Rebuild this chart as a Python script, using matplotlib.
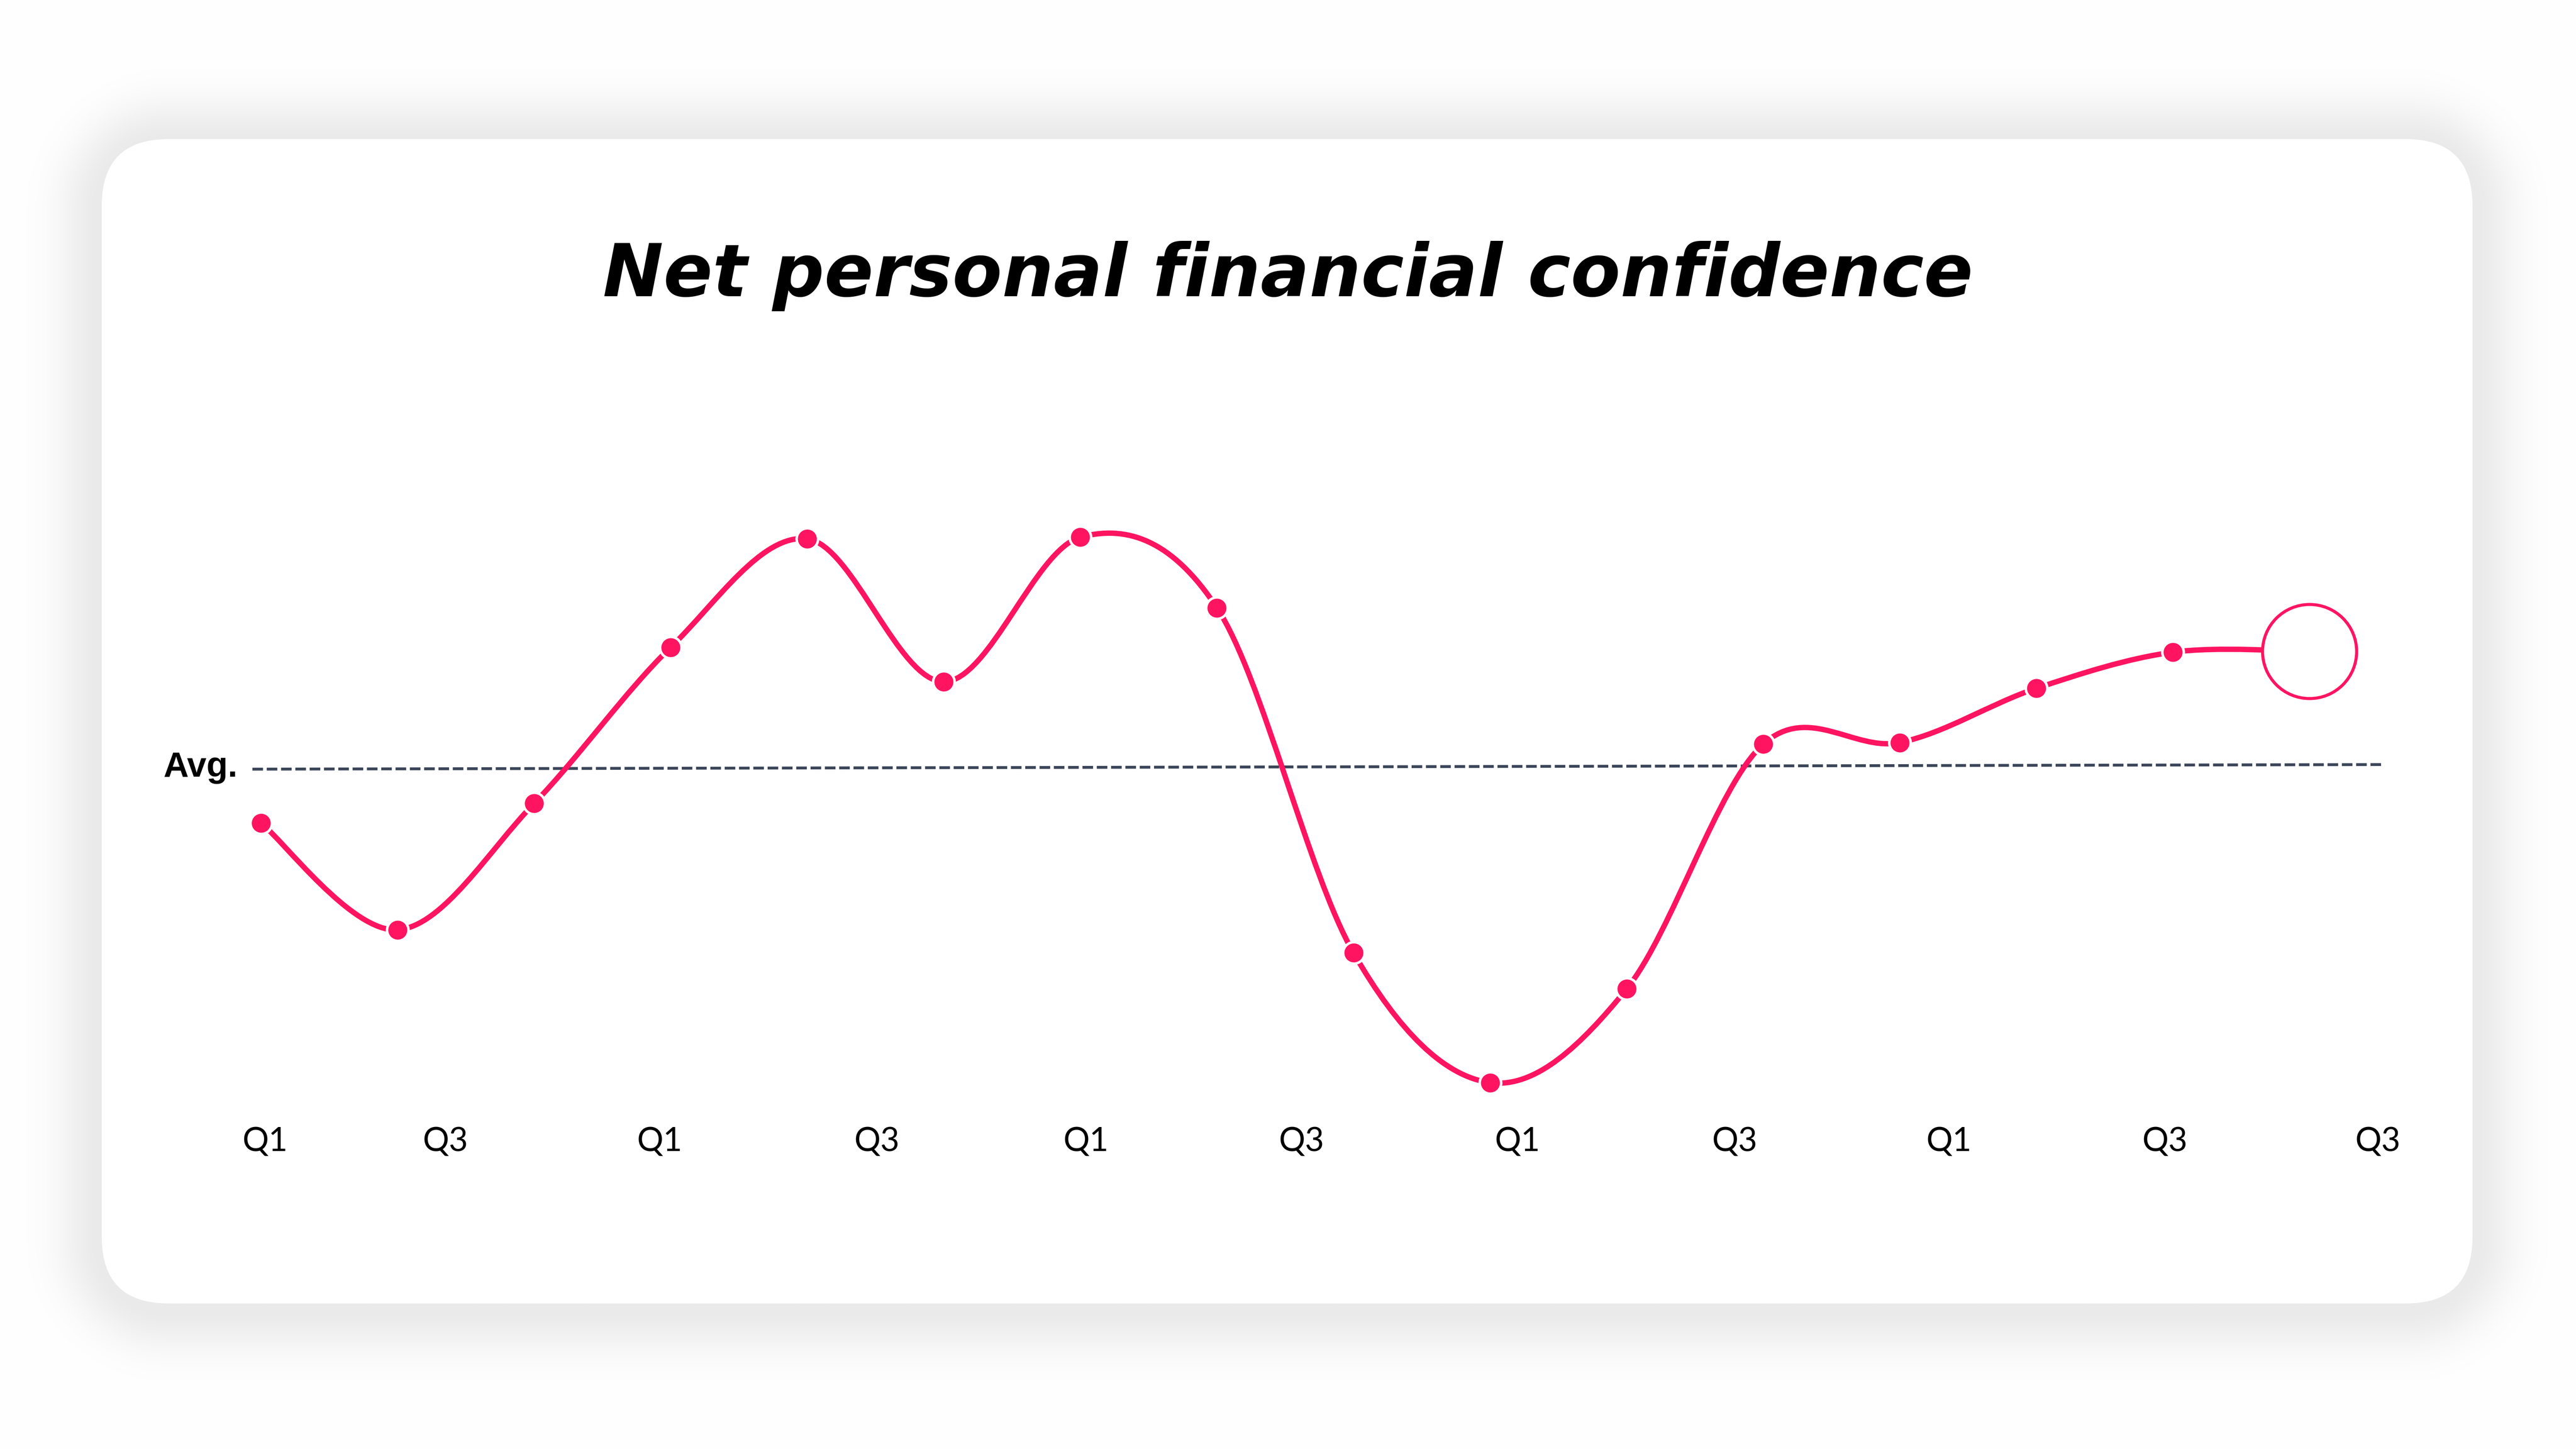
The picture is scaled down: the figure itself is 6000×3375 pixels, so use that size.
import numpy as np
import matplotlib
matplotlib.use('Agg')
import matplotlib.pyplot as plt
from matplotlib.path import Path
from matplotlib.patches import PathPatch, FancyBboxPatch

# data (net confidence, arbitrary points)
quarter_idx = np.arange(16)
confidence = [-3.5, -10.0, -2.3, 7.2, 13.8, 5.1, 13.9, 9.6,
              -11.4, -19.3, -13.6, 1.3, 1.4, 4.7, 6.9, 6.95]
avg_x = [-0.063, 15.525]
avg_y = [-0.22, 0.06]
tick_pos = [0.03, 1.35, 2.92, 4.51, 6.04, 7.62, 9.20, 10.79, 12.36, 13.94, 15.50]
tick_labels = ['Q1', 'Q3', 'Q1', 'Q3', 'Q1', 'Q3', 'Q1', 'Q3', 'Q1', 'Q3', 'Q3']

PINK = '#FF1462'
NAVY = '#3B4559'
W, H = 6000, 3375

fig = plt.figure(figsize=(20, 11.25), dpi=300)
fig.patch.set_facecolor('white')

# background: soft shadow + rounded white card
bg = fig.add_axes([0, 0, 1, 1])
bg.set_xlim(0, W)
bg.set_ylim(H, 0)
bg.axis('off')
card = (237, 324, 5759, 3036)
rad = 155
gx, gy = np.meshgrid(np.arange(0, W, 6) + 3, np.arange(0, H, 6) + 3)
cx, cy = (card[0] + card[2]) / 2, (card[1] + card[3]) / 2 + 10
hx, hy = (card[2] - card[0]) / 2 - rad, (card[3] - card[1]) / 2 - rad
qx = np.abs(gx - cx) - hx
qy = np.abs(gy - cy) - hy
d = np.hypot(np.maximum(qx, 0), np.maximum(qy, 0)) + np.minimum(np.maximum(qx, qy), 0) - rad
d = np.maximum(d, 0)
grey = (255 - 21 * np.exp(-(d / 100) ** 2)) / 255
bg.imshow(np.dstack([grey, grey, grey]), extent=(0, W, H, 0), interpolation='bilinear', zorder=0)
bg.add_patch(FancyBboxPatch((card[0], card[1]), card[2] - card[0], card[3] - card[1],
                            boxstyle='round,pad=0,rounding_size=%d' % rad,
                            facecolor='white', edgecolor='none', zorder=1))

# chart axes: one x unit = 318.07 px, first point at px 608
ylo, yhi = -22, 16
xhi = 15.6
ax = fig.add_axes([608 / W, 1 - 2624.9 / H, xhi * 318.07 / W, (2624.9 - 1170.9) / H])
ax.patch.set_alpha(0)
for s in ax.spines.values():
    s.set_visible(False)
ax.set_yticks([])

# average line
ax.plot(avg_x, avg_y, color=NAVY, lw=1.6, dashes=(3.7, 1.3), clip_on=False, zorder=2)
ax.annotate('Avg.', xy=(avg_x[0], avg_y[0]), xytext=(-34, -17), textcoords='offset pixels',
            ha='right', va='baseline', fontsize=19.5, fontweight='bold',
            family=['Liberation Sans', 'DejaVu Sans'], color='black',
            annotation_clip=False)

# smooth catmull-rom curve through the points
pts = np.column_stack([quarter_idx, confidence]).astype(float)
ext = np.vstack([pts[0], pts, pts[-1]])
verts = [pts[0]]
codes = [Path.MOVETO]
for i in range(len(pts) - 1):
    p0, p1, p2, p3 = ext[i], ext[i + 1], ext[i + 2], ext[i + 3]
    verts += [p1 + (p2 - p0) / 6, p2 - (p3 - p1) / 6, p2]
    codes += [Path.CURVE4] * 3
ax.add_patch(PathPatch(Path(verts, codes), facecolor='none', edgecolor=PINK, lw=3.0,
                       capstyle='round', clip_on=False, zorder=3))

ax.plot(quarter_idx[:-1], confidence[:-1], 'o', ms=12, color=PINK, mec='white', mew=1.4,
        clip_on=False, zorder=4)
ax.plot(quarter_idx[-1:], confidence[-1:], 'o', ms=52.6, mfc='white', mec=PINK, mew=1.7,
        clip_on=False, zorder=5)

ax.set_xticks(tick_pos, tick_labels)
ax.tick_params(axis='x', length=0, pad=0, labelsize=18.4, labelcolor='black')
for t in ax.get_xticklabels():
    t.set_family(['Lato', 'DejaVu Sans'])
ax.set_xlim(0, xhi)
ax.set_ylim(ylo, yhi)

fig.text(0.5, 1 - 690 / H, 'Net personal financial confidence', ha='center', va='baseline',
         fontsize=40.5, fontweight='bold', fontstyle='italic', family=['DejaVu Sans'],
         color='black')

fig.savefig('out.png', dpi=300)
